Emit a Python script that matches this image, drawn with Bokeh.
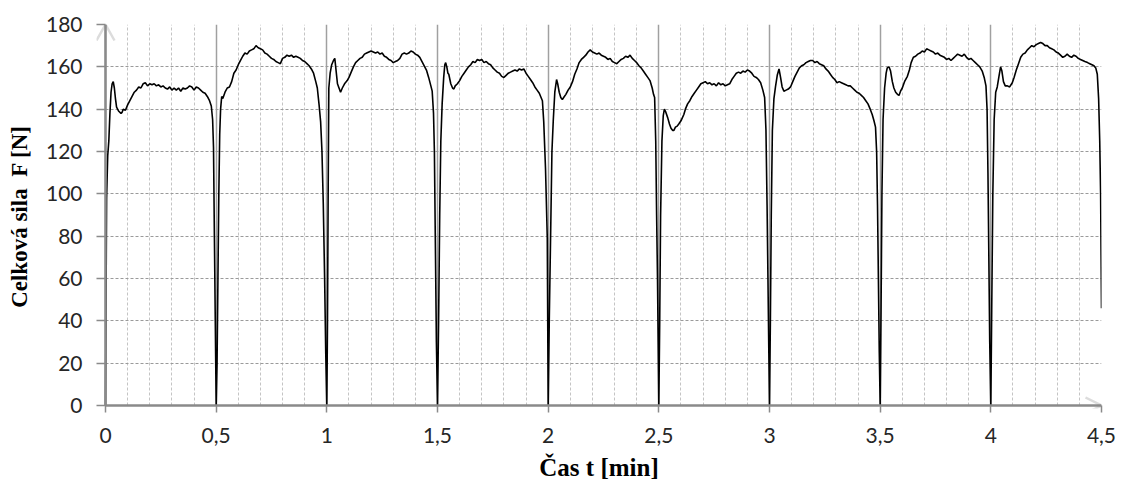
from bokeh.plotting import figure
from bokeh.models import Range1d, FixedTicker, PolyAnnotation, CustomJSTickFormatter
from bokeh.embed import file_html
from bokeh.resources import INLINE

# ---------------- data ----------------
X_MAX = 4.5
Y_MAX = 180
x_major_ticks = [0, 0.5, 1, 1.5, 2, 2.5, 3, 3.5, 4, 4.5]
x_minor_ticks = [0.1, 0.2, 0.3, 0.4, 0.6, 0.7, 0.8, 0.9, 1.1, 1.2, 1.3, 1.4,
                 1.6, 1.7, 1.8, 1.9, 2.1, 2.2, 2.3, 2.4, 2.6, 2.7, 2.8, 2.9,
                 3.1, 3.2, 3.3, 3.4, 3.6, 3.7, 3.8, 3.9, 4.1, 4.2, 4.3, 4.4]
y_ticks = [0, 20, 40, 60, 80, 100, 120, 140, 160, 180]

c0_t = [0.000, 0.003, 0.005, 0.010, 0.015, 0.020, 0.025, 0.030, 0.035, 0.040, 0.045, 0.050,
        0.060, 0.070, 0.075, 0.080, 0.090, 0.100, 0.110, 0.120, 0.130, 0.140, 0.150, 0.160,
        0.170, 0.180, 0.190, 0.200, 0.210, 0.220, 0.230, 0.240, 0.250, 0.260, 0.270, 0.280,
        0.290, 0.300, 0.310, 0.320, 0.330, 0.340, 0.350, 0.360, 0.370, 0.380, 0.390, 0.400,
        0.410, 0.420, 0.430, 0.440, 0.450, 0.460, 0.470, 0.478, 0.484, 0.488, 0.492, 0.496, 0.500]
c0_f = [0, 60, 98, 118, 125, 138, 148, 152, 153, 150, 145, 141,
        139, 138, 138.5, 140, 139.5, 142, 144, 146, 148, 149, 150.5, 150,
        152, 152.5, 151, 152, 151.5, 152, 151, 151.5, 150.5, 151, 150, 149.5,
        150.5, 149, 150, 149, 150, 148.5, 150, 149.5, 150, 151, 150.5, 149,
        150.5, 150, 149, 148, 147.5, 146, 144, 141.5, 135, 122, 80, 40, 0]

c1_t = [0.504, 0.508, 0.512, 0.516, 0.520, 0.525, 0.530, 0.540, 0.550, 0.560, 0.570, 0.580,
        0.590, 0.600, 0.610, 0.620, 0.630, 0.640, 0.650, 0.660, 0.670, 0.680, 0.690, 0.700,
        0.710, 0.720, 0.730, 0.740, 0.750, 0.760, 0.770, 0.780, 0.790, 0.800, 0.810, 0.820,
        0.830, 0.840, 0.850, 0.860, 0.870, 0.880, 0.890, 0.900, 0.910, 0.920, 0.930, 0.940,
        0.950, 0.957, 0.965, 0.972, 0.978, 0.984, 0.990, 0.995, 1.000]
c1_f = [20, 60, 100, 128, 140, 146, 145, 148, 150, 150.5, 153, 157,
        158.5, 161, 163, 165, 166.5, 166, 167.5, 168, 168.5, 170, 169, 168.5,
        168, 166.5, 166, 165, 164, 163.5, 162.5, 162, 161.5, 164, 164.5, 165.5,
        165, 165.5, 164.5, 165, 164.5, 164, 163, 162.5, 161.5, 160.5, 159, 157,
        153, 150, 142, 134, 120, 95, 60, 25, 0]

c2_t = [1.003, 1.006, 1.009, 1.015, 1.022, 1.030, 1.036, 1.042, 1.048, 1.055, 1.062, 1.070,
        1.080, 1.092, 1.100, 1.110, 1.120, 1.130, 1.140, 1.150, 1.160, 1.170, 1.180, 1.190,
        1.200, 1.210, 1.220, 1.230, 1.240, 1.250, 1.260, 1.270, 1.280, 1.290, 1.300, 1.310,
        1.320, 1.330, 1.340, 1.350, 1.360, 1.370, 1.380, 1.390, 1.400, 1.410, 1.420, 1.430,
        1.440, 1.450, 1.460, 1.470, 1.476, 1.482, 1.486, 1.490, 1.495, 1.500]
c2_f = [40, 100, 150, 157, 161, 163, 164, 158, 152, 150, 148, 150,
        152, 153.5, 155, 157.5, 160, 162, 163, 164, 164.5, 166, 166.5, 167,
        167.5, 167, 166.5, 167, 166, 166.5, 165, 164.5, 163.5, 163, 162, 162.5,
        163, 164, 166, 166.5, 166, 166.5, 167.5, 167, 166, 165.5, 164.5, 162.5,
        160.5, 158.5, 155, 151, 148.5, 138, 120, 80, 30, 0]

c3_t = [1.505, 1.510, 1.515, 1.521, 1.528, 1.533, 1.537, 1.542, 1.547, 1.551, 1.560, 1.568,
        1.574, 1.580, 1.590, 1.600, 1.610, 1.620, 1.630, 1.640, 1.650, 1.660, 1.670, 1.680,
        1.690, 1.700, 1.710, 1.720, 1.730, 1.740, 1.750, 1.760, 1.770, 1.780, 1.790, 1.800,
        1.810, 1.820, 1.830, 1.840, 1.850, 1.860, 1.870, 1.880, 1.890, 1.900, 1.910, 1.920,
        1.930, 1.940, 1.950, 1.960, 1.966, 1.974, 1.980, 1.988, 1.996, 2.000]
c3_f = [40, 90, 125, 142.5, 155, 161, 162, 160, 157, 156.5, 152, 150,
        149.5, 151, 152, 153.5, 155.5, 157, 158.5, 160, 161, 162.5, 162, 163.5,
        163, 163.5, 162, 162.5, 161.5, 161, 159.5, 158.5, 157.5, 157, 155.5, 155,
        156, 157, 157.5, 158, 158.5, 158, 159, 158.5, 159, 157, 155.5, 154,
        152.5, 150.5, 149, 147.5, 146, 144, 134, 112, 79, 0]

c4_t = [2.005, 2.011, 2.017, 2.023, 2.030, 2.038, 2.043, 2.050, 2.057, 2.064, 2.070, 2.080,
        2.090, 2.100, 2.110, 2.120, 2.130, 2.140, 2.150, 2.160, 2.170, 2.180, 2.190, 2.200,
        2.210, 2.220, 2.230, 2.240, 2.250, 2.260, 2.270, 2.280, 2.290, 2.300, 2.310, 2.320,
        2.330, 2.340, 2.350, 2.360, 2.370, 2.380, 2.390, 2.400, 2.410, 2.420, 2.430, 2.440,
        2.450, 2.460, 2.470, 2.476, 2.481, 2.486, 2.490, 2.494, 2.497, 2.500]
c4_f = [40, 80, 120, 134.5, 148, 154, 152, 148, 145.5, 144.5, 145.5, 147,
        149, 150.5, 153, 156.5, 159, 162, 163.5, 164.5, 165.5, 167, 168, 167,
        166.5, 166, 166.5, 165.5, 165, 164.5, 163.5, 164, 162.5, 162, 161.5, 162.5,
        163.5, 164, 165, 164.5, 165.5, 164, 163, 162, 160.5, 159.5, 158, 156.5,
        155, 153.5, 150, 147, 145.5, 125, 90, 60, 30, 0]

c5_t = [2.504, 2.508, 2.514, 2.520, 2.525, 2.530, 2.540, 2.548, 2.555, 2.562, 2.568, 2.575,
        2.583, 2.590, 2.600, 2.613, 2.620, 2.630, 2.640, 2.650, 2.660, 2.670, 2.680, 2.690,
        2.700, 2.710, 2.720, 2.730, 2.740, 2.750, 2.760, 2.770, 2.780, 2.790, 2.800, 2.810,
        2.820, 2.830, 2.840, 2.850, 2.860, 2.870, 2.880, 2.890, 2.900, 2.910, 2.920, 2.930,
        2.940, 2.950, 2.960, 2.970, 2.978, 2.984, 2.989, 2.993, 2.997, 3.000]
c5_f = [40, 90, 125, 137, 140, 139, 136, 133, 131, 130, 130, 131.5,
        132, 133, 134.5, 137.5, 140, 142.5, 144, 146, 147.5, 149, 150.5, 152,
        152.5, 153, 152, 152.5, 151.5, 152, 151, 152.5, 151.5, 152, 151, 151.5,
        152, 154, 155.5, 157, 157.5, 157, 158, 157.5, 158.5, 158, 157, 155.5,
        155, 154, 152.5, 149, 145.5, 130, 95, 60, 25, 0]

c6_t = [3.004, 3.008, 3.013, 3.020, 3.027, 3.035, 3.043, 3.050, 3.057, 3.065, 3.075, 3.085,
        3.095, 3.105, 3.115, 3.125, 3.135, 3.145, 3.155, 3.165, 3.175, 3.185, 3.195, 3.205,
        3.215, 3.225, 3.235, 3.245, 3.255, 3.265, 3.275, 3.285, 3.295, 3.305, 3.315, 3.325,
        3.335, 3.345, 3.355, 3.365, 3.375, 3.385, 3.395, 3.405, 3.415, 3.425, 3.435, 3.445,
        3.455, 3.464, 3.472, 3.479, 3.484, 3.488, 3.492, 3.496, 3.500]
c6_f = [40, 90, 130, 145, 150.5, 156, 159, 155, 150.5, 148.5, 149, 149.5,
        150.5, 153, 155.5, 157.5, 159.5, 160.5, 161, 162, 162.5, 163, 163, 162,
        162.5, 161.5, 161, 160.5, 159, 158, 156.5, 155, 154, 152.5, 153, 152.5,
        152, 151.5, 151, 151, 150, 149, 148, 147.5, 146.5, 145.5, 144, 142.5,
        140, 137.5, 134.5, 131.5, 120, 95, 60, 25, 0]

c7_t = [3.504, 3.508, 3.513, 3.520, 3.527, 3.532, 3.540, 3.547, 3.555, 3.562, 3.570, 3.578,
        3.585, 3.592, 3.600, 3.610, 3.623, 3.632, 3.640, 3.650, 3.660, 3.670, 3.680, 3.690,
        3.700, 3.710, 3.720, 3.730, 3.740, 3.750, 3.760, 3.770, 3.780, 3.790, 3.800, 3.810,
        3.820, 3.830, 3.840, 3.850, 3.860, 3.870, 3.880, 3.890, 3.900, 3.910, 3.920, 3.930,
        3.940, 3.950, 3.961, 3.970, 3.978, 3.983, 3.987, 3.991, 3.995, 4.000]
c7_f = [45, 100, 135, 150, 157, 159.5, 160, 158, 153, 150, 148, 147,
        146.5, 148.5, 150, 153, 155.5, 158.5, 162, 164.5, 165, 166, 166.5, 167.5,
        167, 168.5, 168, 167.5, 167, 166, 166.5, 165.5, 165, 164.5, 163.5, 164,
        163, 164, 165, 166, 165.5, 165, 166, 164.5, 163.5, 164, 163, 162,
        161, 160, 158, 155, 151, 140, 110, 70, 30, 0]

c8_t = [4.004, 4.009, 4.015, 4.022, 4.029, 4.036, 4.044, 4.050, 4.057, 4.065, 4.075, 4.085,
        4.097, 4.105, 4.115, 4.125, 4.135, 4.145, 4.155, 4.165, 4.175, 4.185, 4.195, 4.205,
        4.215, 4.225, 4.235, 4.245, 4.255, 4.265, 4.275, 4.285, 4.295, 4.305, 4.315, 4.325,
        4.335, 4.345, 4.355, 4.365, 4.375, 4.385, 4.395, 4.405, 4.415, 4.425, 4.437, 4.447,
        4.457, 4.466, 4.474, 4.481, 4.487, 4.492, 4.496, 4.500]
c8_f = [45, 100, 135, 148, 150.5, 155, 160, 158, 153, 151, 151, 150.5,
        152.5, 155, 158.5, 161.5, 164.5, 166, 166.5, 168, 169, 170, 169.5, 170.5,
        171, 171.5, 171, 170, 170, 169, 168.5, 168, 167, 166.5, 165.5, 164.5,
        165, 166, 165, 164.5, 165.5, 165, 164, 163.5, 163, 162.5, 162, 161.5,
        161, 160.5, 159.5, 156.5, 145, 125, 100, 46]

cycles_t = [c0_t, c1_t, c2_t, c3_t, c4_t, c5_t, c6_t, c7_t, c8_t]
cycles_f = [c0_f, c1_f, c2_f, c3_f, c4_f, c5_f, c6_f, c7_f, c8_f]
t_all = [v for c in cycles_t for v in c]
f_all = [v for c in cycles_f for v in c]

x_label = "Čas t [min]"
y_label = "Celková sila\u00a0 F [N]"

# ---------------- figure ----------------
AXIS_GREY = "#8a8a8a"
W, H = 1120, 490
AXIS_X0, FRAME_T, FRAME_R, AXIS_Y0 = 105, 24, 1101, 405   # pixel position of x=0 / y=0
PAD_X = 9                              # frame room left of the y axis (arrow head)
PAD_Y = 3                              # frame room below the x axis
px_x = X_MAX / (FRAME_R - AXIS_X0)     # data units per pixel
px_y = Y_MAX / (AXIS_Y0 - FRAME_T)

p = figure(width=W, height=H,
           x_range=Range1d(-PAD_X * px_x, X_MAX), y_range=Range1d(-PAD_Y * px_y, Y_MAX),
           output_backend="svg", toolbar_location=None,
           min_border_left=AXIS_X0 - PAD_X, min_border_right=W - FRAME_R,
           min_border_top=FRAME_T, min_border_bottom=H - AXIS_Y0 - PAD_Y)
p.outline_line_color = None
p.background_fill_color = "white"
p.border_fill_color = "white"

# axes (tick marks reach from the frame edge to the visible axis line at 0)
p.xaxis.ticker = FixedTicker(ticks=x_major_ticks)
p.xaxis.formatter = CustomJSTickFormatter(code="return String(tick).replace('.', ',');")
p.xaxis.bounds = (0, X_MAX)
p.yaxis.ticker = FixedTicker(ticks=y_ticks)
p.yaxis.bounds = (0, Y_MAX)

for ax in (p.xaxis[0], p.yaxis[0]):
    ax.axis_line_color = None
    ax.major_tick_line_color = AXIS_GREY
    ax.major_tick_line_width = 1.5
    ax.minor_tick_line_color = None
    ax.major_label_text_font = "Lato"
    ax.major_label_text_font_size = "21px"
    ax.major_label_text_color = "#262626"
    ax.axis_label_text_font = "Liberation Serif"
    ax.axis_label_text_font_style = "bold"
    ax.axis_label_text_color = "black"

p.yaxis.major_tick_in = PAD_X
p.yaxis.major_tick_out = 0
p.xaxis.major_tick_in = PAD_Y
p.xaxis.major_tick_out = 7 - PAD_Y

p.xaxis.major_label_standoff = 15
p.yaxis.major_label_standoff = 14
p.xaxis.axis_label = x_label
p.yaxis.axis_label = y_label
p.xaxis.axis_label_text_font_size = "25px"
p.yaxis.axis_label_text_font_size = "23px"
p.xaxis.axis_label_standoff = 8
p.yaxis.axis_label_standoff = 11

# grids
p.xgrid.ticker = FixedTicker(ticks=x_major_ticks, minor_ticks=x_minor_ticks)
p.xgrid.grid_line_color = "#a0a0a0"
p.xgrid.grid_line_width = 1.5
p.xgrid.minor_grid_line_color = "#c4c4c4"
p.xgrid.minor_grid_line_dash = "3 2"
p.xgrid.minor_grid_line_width = 1
p.xgrid.cross_bounds = (0, Y_MAX)

p.ygrid.ticker = FixedTicker(ticks=y_ticks)
p.ygrid.grid_line_color = "#9a9a9a"
p.ygrid.grid_line_dash = "3 2"
p.ygrid.grid_line_width = 1
p.ygrid.cross_bounds = (0, X_MAX)

# data line
p.line(t_all, f_all, line_color="black", line_width=1.6)

# visible axis lines at x=0 and y=0, with open arrow heads
p.segment(x0=[0, 0], y0=[0, 0], x1=[0, X_MAX], y1=[Y_MAX, 0],
          line_color=AXIS_GREY, line_width=2.5)
ya_dx, ya_dy = 9 * px_x, 16 * px_y
xa_dx, xa_dy = 16 * px_x, 8 * px_y
p.add_layout(PolyAnnotation(xs=[-ya_dx, 0, ya_dx, 0],
                            ys=[Y_MAX - ya_dy, Y_MAX, Y_MAX - ya_dy, Y_MAX],
                            fill_alpha=0, line_color=AXIS_GREY, line_width=2.5))
p.add_layout(PolyAnnotation(xs=[X_MAX - xa_dx, X_MAX, X_MAX - xa_dx, X_MAX],
                            ys=[xa_dy, 0, -xa_dy, 0],
                            fill_alpha=0, line_color=AXIS_GREY, line_width=2.5))

open("out.html", "w").write(file_html(p, INLINE))
